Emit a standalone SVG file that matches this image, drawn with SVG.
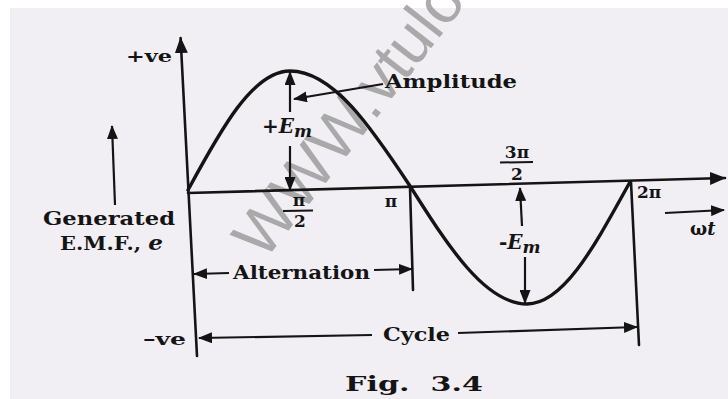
<svg xmlns="http://www.w3.org/2000/svg" width="728" height="399" viewBox="0 0 728 399">
<defs>
<style>
.t{font-family:"DejaVu Serif","Liberation Serif",serif;font-weight:bold;fill:#141414}
.i{font-style:italic}
.ln{stroke:#141414;stroke-width:2.6;fill:none;stroke-linecap:round}
.ar{stroke:#141414;stroke-width:2.2;fill:none;marker-end:url(#ah)}
.wm{font-family:"Liberation Sans",Arial,sans-serif;fill:#9c9c9c;fill-opacity:0.85}
</style>
<marker id="ah" markerWidth="14" markerHeight="11" refX="13" refY="5.5" orient="auto" markerUnits="userSpaceOnUse">
<path d="M0,0 L14,5.5 L0,11 z" fill="#141414"/>
</marker>
<marker id="ahb" markerWidth="16" markerHeight="13" refX="15" refY="6.5" orient="auto" markerUnits="userSpaceOnUse">
<path d="M0,0 L16,6.5 L0,13 z" fill="#141414"/>
</marker>
</defs>
<rect width="728" height="399" fill="#ffffff"/>
<rect x="10" y="8" width="718" height="391" fill="#f1eff4"/>

<g id="watermark">
<text class="wm" font-size="64" transform="translate(264,262) rotate(-52)">WWW.vtuloop.com</text>
</g>

<g id="axes">
<line x1="197" y1="356" x2="180.6" y2="38" class="ln" style="marker-end:url(#ahb)"/>
<line x1="188" y1="193" x2="725" y2="178" class="ln" style="marker-end:url(#ahb)"/>
</g>

<g id="wave">
<path class="ln" style="stroke-width:3.4" d="M188,190 C221,129 253,71 290,71 C333,71 371,127 410,186 C448,246 485,304 527,304 C564,304 595,245 630,182"/>
<line class="ln" x1="410" y1="187" x2="413" y2="290"/>
<line class="ln" x1="631" y1="182" x2="639" y2="345"/>
</g>

<g id="connectors">
<line class="ar" x1="115" y1="205" x2="112" y2="126"/>
<line class="ar" x1="290" y1="112" x2="290" y2="72"/>
<line class="ar" x1="290" y1="146" x2="290" y2="190"/>
<line class="ar" x1="383" y1="84" x2="294" y2="99"/>
<line class="ar" x1="522" y1="226" x2="520" y2="188"/>
<line class="ar" x1="525" y1="257" x2="525" y2="303"/>
<line class="ar" x1="229" y1="273" x2="194" y2="274"/>
<line class="ar" x1="374" y1="270" x2="412" y2="269"/>
<line class="ar" x1="372" y1="335" x2="199" y2="338"/>
<line class="ar" x1="458" y1="333" x2="637" y2="327"/>
<line class="ar" x1="665" y1="213" x2="724" y2="210"/>
</g>

<g id="label-pos"><text class="t" x="126" y="62" font-size="17" textLength="46" lengthAdjust="spacingAndGlyphs">+ve</text></g>
<g id="label-neg"><text class="t" x="143" y="345" font-size="17" textLength="43" lengthAdjust="spacingAndGlyphs">–ve</text></g>
<g id="label-emf">
<text class="t" x="43" y="225" font-size="19" textLength="132" lengthAdjust="spacingAndGlyphs">Generated</text>
<text class="t" x="60" y="250" font-size="19" textLength="103" lengthAdjust="spacingAndGlyphs">E.M.F., <tspan class="i" font-size="21">e</tspan></text>
</g>
<g id="label-amplitude"><text class="t" x="385" y="88" font-size="18.5" textLength="132" lengthAdjust="spacingAndGlyphs">Amplitude</text></g>
<g id="label-pem"><text class="t" x="262" y="133" font-size="20">+<tspan class="i">E</tspan><tspan class="i" font-size="17" dy="4">m</tspan></text></g>
<g id="label-nem"><text class="t" x="499" y="249" font-size="20">-<tspan class="i">E</tspan><tspan class="i" font-size="17" dy="4">m</tspan></text></g>
<g id="label-alternation"><text class="t" x="233" y="279" font-size="18.5" textLength="137" lengthAdjust="spacingAndGlyphs">Alternation</text></g>
<g id="label-cycle"><text class="t" x="383" y="341" font-size="18.5" textLength="67" lengthAdjust="spacingAndGlyphs">Cycle</text></g>
<g id="label-pi2">
<text class="t" x="299" y="206" font-size="17" text-anchor="middle">π</text>
<line x1="283" y1="211" x2="313" y2="210.5" stroke="#141414" stroke-width="2"/>
<text class="t" x="300" y="227" font-size="17" text-anchor="middle">2</text>
</g>
<g id="label-pi"><text class="t" x="391" y="207" font-size="17" text-anchor="middle">π</text></g>
<g id="label-3pi2">
<text class="t" x="517" y="158" font-size="17" text-anchor="middle">3π</text>
<line x1="500" y1="162.5" x2="533" y2="162" stroke="#141414" stroke-width="2"/>
<text class="t" x="517" y="180" font-size="17" text-anchor="middle">2</text>
</g>
<g id="label-2pi"><text class="t" x="637" y="198" font-size="17">2π</text></g>
<g id="label-wt"><text class="t" x="690" y="235" font-size="18">ω<tspan class="i">t</tspan></text></g>
<g id="caption"><text class="t" x="345" y="391" font-size="21" xml:space="preserve" textLength="138" lengthAdjust="spacingAndGlyphs">Fig.  3.4</text></g>
</svg>
